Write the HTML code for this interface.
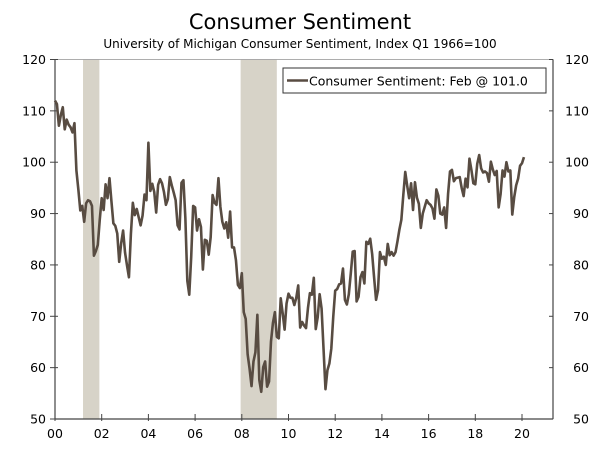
<!DOCTYPE html>
<html><head><meta charset="utf-8"><style>
body{margin:0;background:#fff;}
svg text{font-family:"DejaVu Sans","Liberation Sans",sans-serif;fill:#000;}
</style></head><body>
<svg id="chart" width="600" height="444" xmlns="http://www.w3.org/2000/svg">
<text x="300" y="29" text-anchor="middle" font-size="21">Consumer Sentiment</text>
<text x="300" y="48" text-anchor="middle" font-size="12">University of Michigan Consumer Sentiment, Index Q1 1966=100</text>
<g id="rec"></g>
<g id="axes"></g>
<path id="line" fill="none" stroke="#584c42" stroke-width="2.6" stroke-linejoin="round"/>
<g>
<rect x="283" y="68" width="263" height="25" fill="#fff" stroke="#333" stroke-width="1"/>
<line x1="287" y1="80.5" x2="308" y2="80.5" stroke="#584c42" stroke-width="2.6"/>
<text x="309" y="85.5" font-size="12.5">Consumer Sentiment: Feb @ 101.0</text>
</g>
</svg>
<script>
const startYear = 2000;
const recessions = [[2001.2, 2001.9], [2007.95, 2009.5]];
const yTicks = [50, 60, 70, 80, 90, 100, 110, 120];
const xTickYears = [2000, 2002, 2004, 2006, 2008, 2010, 2012, 2014, 2016, 2018, 2020];
const xTickLabels = ["00","02","04","06","08","10","12","14","16","18","20"];
const values = [
112.0,111.3,107.1,109.2,110.7,106.4,108.3,107.3,106.8,105.8,107.6,98.4,
94.7,90.6,91.5,88.4,92.0,92.6,92.4,91.5,81.8,82.7,83.9,88.8,
93.0,90.7,95.7,93.0,96.9,92.4,88.1,87.6,86.1,80.6,84.2,86.7,
82.4,79.9,77.6,86.0,92.1,89.7,90.9,89.3,87.7,89.6,93.7,92.6,
103.8,94.4,95.8,94.2,90.2,95.6,96.7,95.9,94.2,91.7,92.8,97.1,
95.5,94.1,92.6,87.7,86.9,96.0,96.5,89.1,76.9,74.2,81.6,91.5,
91.2,86.7,88.9,87.4,79.1,84.9,84.7,82.0,85.4,93.6,92.1,91.7,
96.9,91.3,88.4,87.1,88.3,85.3,90.4,83.4,83.4,80.9,76.1,75.5,
78.4,70.8,69.5,62.6,59.8,56.4,61.2,63.0,70.3,57.6,55.3,60.1,
61.2,56.3,57.3,65.1,68.7,70.8,66.0,65.7,73.5,70.6,67.4,72.5,
74.4,73.6,73.6,72.2,73.6,76.0,67.8,68.9,68.2,67.7,71.6,74.5,
74.2,77.5,67.5,69.8,74.3,71.5,63.7,55.8,59.5,60.8,63.7,69.9,
75.0,75.3,76.2,76.4,79.3,73.2,72.3,74.3,78.3,82.6,82.7,72.9,
73.8,77.6,78.6,76.4,84.5,84.1,85.1,82.1,77.5,73.2,75.1,82.5,
81.2,81.6,80.0,84.1,81.9,82.5,81.8,82.5,84.6,86.9,88.8,93.6,
98.1,95.4,93.0,95.9,90.7,96.1,93.1,91.9,87.2,90.0,91.3,92.6,
92.0,91.7,91.0,89.0,94.7,93.5,90.0,89.8,91.2,87.2,93.8,98.2,
98.5,96.3,96.9,97.0,97.1,95.0,93.4,96.8,95.1,100.7,98.5,95.9,
95.7,99.7,101.4,98.8,98.0,98.2,97.9,96.2,100.1,98.6,97.5,98.3,
91.2,93.8,98.4,97.2,100.0,98.2,98.4,89.8,93.2,95.5,96.8,99.3,
99.8,101.0];

const X0=55, X1=553, Y0=419, Y1=59.5;
const yMin=50, yMax=120, tMin=2000, tMax=2000+(X1-X0)/23.35;
const xs = t => X0 + (t - tMin) / (tMax - tMin) * (X1 - X0);
const ys = v => Y0 - (v - yMin) / (yMax - yMin) * (Y0 - Y1);
const NS="http://www.w3.org/2000/svg";
function mk(tag, attrs, parent){const e=document.createElementNS(NS,tag);for(const k in attrs)e.setAttribute(k,attrs[k]);parent.appendChild(e);return e;}

const rec=document.getElementById('rec');
recessions.forEach(r=>{
  const e=mk('rect',{x:xs(r[0]),y:Y1,width:xs(r[1])-xs(r[0]),height:Y0-Y1,fill:'#d7d3c8'},rec);
  
  
});

const ax=document.getElementById('axes');
mk('rect',{x:X0,y:Y1,width:X1-X0,height:Y0-Y1,fill:'none',stroke:'#999','stroke-width':0.8},ax);
mk('line',{x1:X0,y1:Y1,x2:X0,y2:Y0,stroke:'#444','stroke-width':1.2},ax);
mk('line',{x1:X1,y1:Y1,x2:X1,y2:Y0,stroke:'#444','stroke-width':1.2},ax);
mk('line',{x1:X0,y1:Y0,x2:X1,y2:Y0,stroke:'#444','stroke-width':1.2},ax);
yTicks.forEach(v=>{
  const y=ys(v);
  mk('line',{x1:X0-5,y1:y,x2:X0+3,y2:y,stroke:'#444'},ax);
  mk('line',{x1:X1-4,y1:y,x2:X1,y2:y,stroke:'#444'},ax);
  const l=mk('text',{x:X0-9,y:y+4.5,'text-anchor':'end','font-size':12.5},ax);
  l.textContent=v;
  
  
  const r=mk('text',{x:X1+36,y:y+4.5,'text-anchor':'end','font-size':12.5},ax);
  r.textContent=v;
  
  
});
xTickYears.forEach((t,i)=>{
  const x=xs(t);
  mk('line',{x1:x,y1:Y0-5,x2:x,y2:Y0+2,stroke:'#444'},ax);
  const l=mk('text',{x:x,y:Y0+19,'text-anchor':'middle','font-size':12.5},ax);
  l.textContent=xTickLabels[i];
  
  
});

let d='';
values.forEach((v,i)=>{const t=startYear+i/12;d+=(i?'L':'M')+xs(t).toFixed(2)+','+ys(v).toFixed(2);});
document.getElementById('line').setAttribute('d',d);
</script>
</body></html>
